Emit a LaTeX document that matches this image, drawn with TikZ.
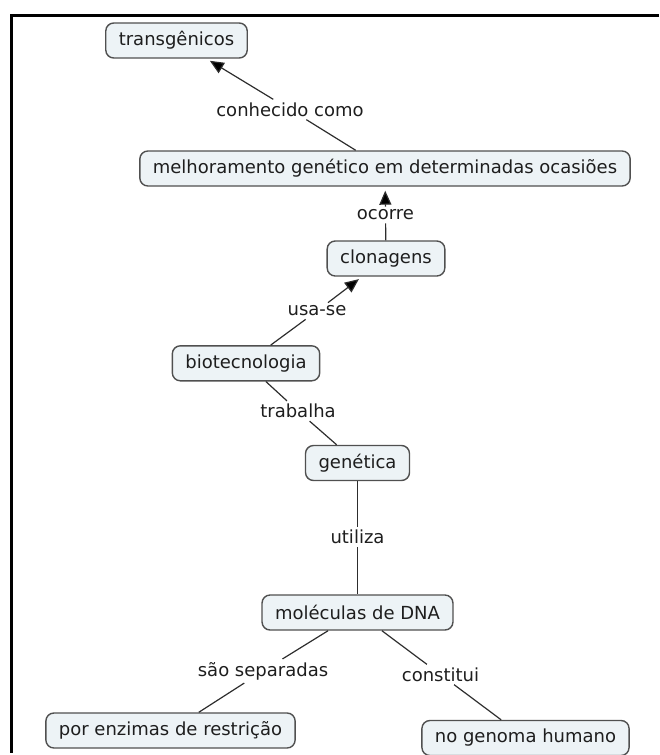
\documentclass[tikz,border=0pt]{standalone}
\usepackage{fontspec}
\setmainfont{DejaVu Sans}
\usetikzlibrary{arrows.meta}
\definecolor{conceptfill}{RGB}{237,243,246}
\definecolor{conceptline}{RGB}{80,80,80}
\definecolor{linkline}{RGB}{45,45,45}
\definecolor{inktext}{RGB}{30,30,30}

\begin{document}
\begin{tikzpicture}[x=1pt,y=-1pt,
  concept/.style={draw=conceptline, fill=conceptfill, line width=1.4pt,
    rounded corners=8pt, minimum height=35pt, inner xsep=13pt, inner ysep=0pt,
    text=inktext, font=\fontsize{18}{21}\selectfont},
  linklabel/.style={inner xsep=3pt, inner ysep=3pt, text=inktext,
    font=\fontsize{18}{21}\selectfont},
  link/.style={draw=linkline, line width=1.2pt},
  arrowlink/.style={link, -{Triangle[length=14pt,width=12pt,fill=black]}, shorten >=4pt},
  frameline/.style={line width=3pt, draw=black}]
\useasboundingbox (0,0) rectangle (659,755);

% outer frame (top and left edges)
\draw[frameline] (659,15.5) -- (11.5,15.5) -- (11.5,753);

% concepts
\node[concept] (trans) at (176.5,40.5)  {transgênicos};
\node[concept] (melh)  at (385,168.5)   {melhoramento genético em determinadas ocasiões};
\node[concept] (clon)  at (386,258.5)   {clonagens};
\node[concept] (bio)   at (246,363.3)   {biotecnologia};
\node[concept] (gen)   at (357.5,463)   {genética};
\node[concept] (mol)   at (357.5,612.5) {moléculas de DNA};
\node[concept] (enz)   at (170.5,730.5) {por enzimas de restrição};
\node[concept] (geno)  at (525.5,738)   {no genoma humano};

% linking phrases
\node[linklabel] (lconh) at (290,109.5)   {conhecido como};
\node[linklabel] (locor) at (385.5,215)   {ocorre};
\node[linklabel] (lusa)  at (317,311)     {usa-se};
\node[linklabel] (ltrab) at (298,411)     {trabalha};
\node[linklabel] (lutil) at (357.5,537)   {utiliza};
\node[linklabel] (lsep)  at (263,671)     {são separadas};
\node[linklabel] (lcons) at (440.5,674.5) {constitui};

% connections
\draw[link]      (melh)  -- (lconh);
\draw[arrowlink] (lconh) -- (trans);
\draw[link]      (clon)  -- (locor);
\draw[arrowlink] (locor) -- (melh);
\draw[link]      (bio)   -- (lusa);
\draw[arrowlink] (lusa)  -- (clon);
\draw[link]      (bio)   -- (ltrab);
\draw[link]      (ltrab) -- (gen);
\draw[link]      (gen)   -- (lutil);
\draw[link]      (lutil) -- (mol);
\draw[link]      (mol)   -- (lsep);
\draw[link]      (lsep)  -- (enz);
\draw[link]      (mol)   -- (lcons);
\draw[link]      (lcons) -- (geno);
\end{tikzpicture}
\end{document}
